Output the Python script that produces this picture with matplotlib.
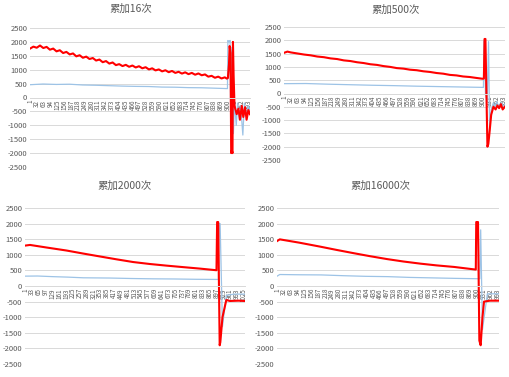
import matplotlib.pyplot as plt

plt.rcParams['font.family'] = ['Noto Sans CJK SC', 'DejaVu Sans']

# ---- 累加16次 ----
n16 = 1000
red16_x = [1, 16, 31, 46, 61, 76, 91, 106, 121, 136, 151, 166, 181, 196, 211, 226, 241, 256,
           271, 286, 301, 316, 331, 346, 361, 376, 391, 406, 421, 436, 451, 466, 481, 496,
           511, 526, 541, 556, 571, 586, 601, 616, 631, 646, 661, 676, 691, 706, 721, 736,
           751, 766, 781, 796, 811, 826, 841, 856, 871, 886, 895,
           900, 905, 908, 912, 915, 918, 921, 923, 926, 930, 940, 948, 955, 963, 970, 978,
           985, 993, 1000]
red16_y = [1760, 1830, 1790, 1870, 1780, 1820, 1720, 1760, 1660, 1700, 1600, 1640, 1550, 1585,
           1480, 1520, 1430, 1470, 1385, 1420, 1330, 1365, 1270, 1310, 1220, 1260, 1165, 1200,
           1130, 1175, 1105, 1150, 1080, 1125, 1050, 1090, 1010, 1050, 975, 1010, 940, 980,
           910, 955, 885, 925, 860, 905, 840, 885, 820, 865, 800, 830, 750, 780, 710, 750,
           685, 725, 680,
           700, 1200, 1850, 1600, -2000, -1900, -2000, 2000, 800, -300, -600, -400, -800,
           -300, -700, -350, -800, -450, -600]
blue16_x = [1, 60, 120, 180, 240, 300, 360, 420, 480, 540, 600, 660, 720, 780, 840, 898,
            900, 905, 910, 913, 918, 925, 930, 938, 944, 952, 958, 968, 975, 983, 993, 1000]
blue16_y = [460, 485, 470, 478, 450, 440, 425, 410, 400, 395, 375, 370, 355, 350, 335, 320,
            2050, 2000, 2050, -1000, 1800, -1300, -150, -1000, -200, -800, -300, -1350, -200,
            -600, -300, -450]

# ---- 累加500次 ----
n500 = 1000
red500_x = [1, 16, 31, 61, 91, 121, 151, 181, 211, 241, 271, 301, 331, 361, 391, 421, 451,
            481, 511, 541, 571, 601, 631, 661, 691, 721, 751, 781, 811, 841, 871, 898,
            905, 908, 912, 916, 921, 925, 930, 938, 948, 958, 966, 974, 982, 990, 1000]
red500_y = [1530, 1575, 1545, 1505, 1465, 1435, 1390, 1365, 1320, 1295, 1245, 1220, 1175,
            1145, 1100, 1075, 1030, 1000, 955, 935, 895, 875, 835, 810, 770, 745, 700, 680,
            640, 620, 585, 555,
            560, 2050, 2050, 200, -2000, -1900, -1500, -800, -500, -600, -450, -550, -400,
            -600, -500]
blue500_x = [1, 100, 200, 300, 400, 500, 600, 700, 800, 900, 903, 905, 910, 912, 920, 926,
             931, 938, 948, 955, 963, 970, 985, 993, 1000]
blue500_y = [370, 375, 350, 330, 310, 295, 275, 260, 245, 230, 230, 2000, 2000, 0, -300, 1950,
             -1400, -600, -350, -500, -300, -450, -350, -500, -400]

# ---- 累加2000次 ----
n2000 = 1030
red2000_x = [1, 24, 100, 195, 273, 351, 429, 507, 585, 663, 741, 819, 897,
             900, 905, 912, 915, 925, 943, 960, 1000, 1030]
red2000_y = [1295, 1316, 1235, 1137, 1040, 947, 855, 768, 705, 653, 605, 558, 505,
             2050, 2050, -1900, -1800, -1000, -450, -480, -470, -480]
blue2000_x = [1, 60, 130, 200, 273, 400, 500, 600, 700, 800, 906, 909, 914, 925, 943, 980, 1030]
blue2000_y = [316, 320, 300, 285, 263, 255, 240, 230, 225, 215, 210, 2000, 2000, -1300, -300,
              -260, -260]

# ---- 累加16000次 ----
n16000 = 1000
red16000_x = [1, 13, 100, 194, 270, 345, 420, 496, 570, 647, 720, 798, 896,
              898, 906, 912, 918, 926, 933, 960, 1000]
red16000_y = [1442, 1495, 1390, 1263, 1155, 1053, 955, 863, 785, 716, 660, 611, 526,
              2050, 2050, -1750, -1900, -1000, -500, -470, -470]
blue16000_x = [1, 13, 100, 200, 300, 400, 500, 600, 700, 800, 914, 918, 926, 948, 1000]
blue16000_y = [316, 368, 360, 355, 330, 310, 300, 275, 260, 245, 232, 1800, -1400, -250, -250]

charts = [
    ('累加16次', n16, 31, red16_x, red16_y, blue16_x, blue16_y),
    ('累加500次', n500, 31, red500_x, red500_y, blue500_x, blue500_y),
    ('累加2000次', n2000, 32, red2000_x, red2000_y, blue2000_x, blue2000_y),
    ('累加16000次', n16000, 31, red16000_x, red16000_y, blue16000_x, blue16000_y),
]

W, H = 509, 377
# axes boxes in pixels: left, top, right, bottom ; title centre x, y
boxes = [
    (30, 28, 250, 167, 131, 9),
    (284, 27, 505, 160, 396, 10),
    (25, 208, 245, 364, 125, 186),
    (277, 208, 499, 364, 380, 186),
]

fig = plt.figure(figsize=(W / 100, H / 100), dpi=100)
grey = '#595959'

for (title, n, step, rx, ry, bx, by), (l, t, r, b, tx, ty) in zip(charts, boxes):
    ax = fig.add_axes([l / W, 1 - b / H, (r - l) / W, (b - t) / H])
    for s in ['left', 'right', 'top']:
        ax.spines[s].set_visible(False)
    # category axis crosses at zero, like the Excel chart
    ax.spines['bottom'].set_position(('data', 0))
    ax.spines['bottom'].set_color('#D9D9D9')
    ax.spines['bottom'].set_linewidth(0.7)

    ax.plot(bx, by, color='#9DC3E6', lw=0.9)
    ax.plot(rx, ry, color='#FF0000', lw=1.5)
    ax.set_xlim(0.5, n + 0.5)
    ax.set_ylim(-2500, 2500)
    ticks = list(range(1, n + 1, step))
    ax.set_xticks(ticks)
    ax.set_xticklabels([str(v) for v in ticks])
    yt = list(range(-2500, 2501, 500))
    ax.set_yticks(yt)
    ax.set_yticklabels([str(v) for v in yt])
    ax.tick_params(axis='x', length=0, pad=1.5, labelsize=4.5, labelcolor=grey,
                   labelrotation=90)
    ax.tick_params(axis='y', length=0, pad=2, labelsize=5.5, labelcolor=grey)
    ax.yaxis.grid(True, color='#D9D9D9', lw=0.7)
    ax.set_axisbelow(True)
    fig.text(tx / W, 1 - ty / H, title, ha='center', va='center', fontsize=7.5, color=grey)

fig.savefig('out.png', dpi=100)
